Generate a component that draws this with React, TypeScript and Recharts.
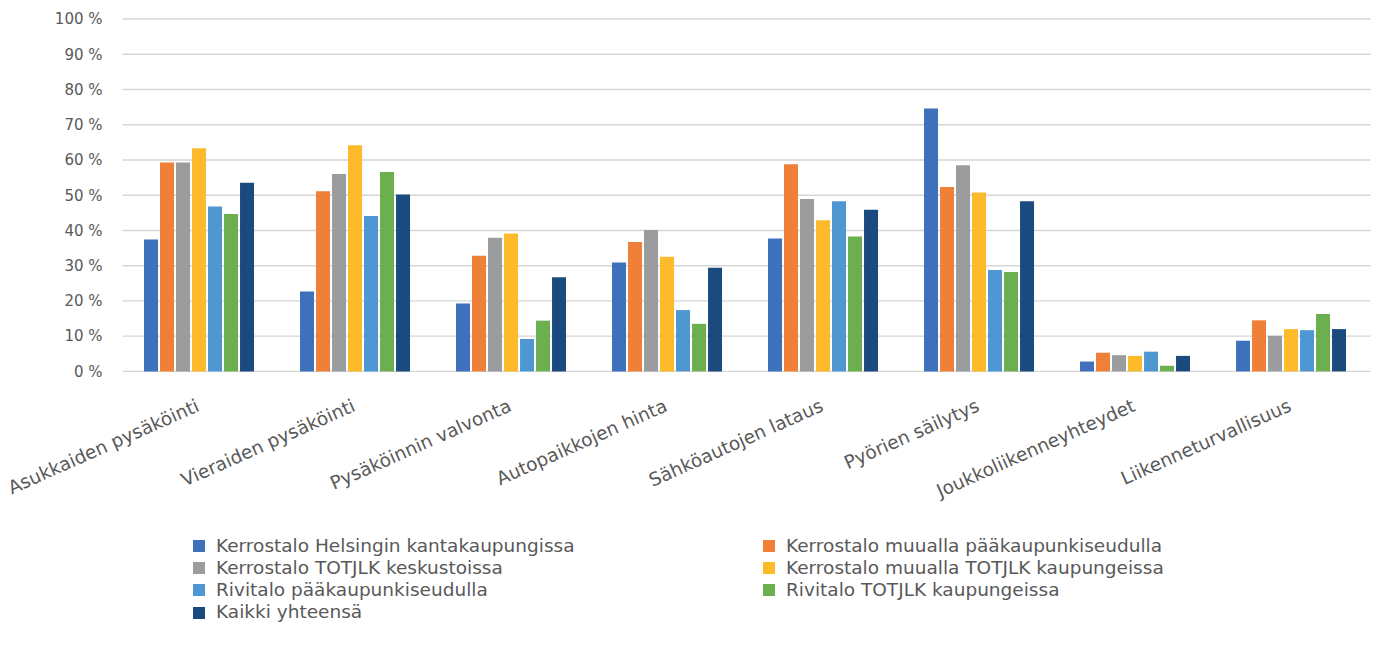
import React from 'react';
import { BarChart, Bar, XAxis, YAxis, CartesianGrid, Legend } from 'recharts';

const categories = [
  'Asukkaiden pysäköinti',
  'Vieraiden pysäköinti',
  'Pysäköinnin valvonta',
  'Autopaikkojen hinta',
  'Sähköautojen lataus',
  'Pyörien säilytys',
  'Joukkoliikenneyhteydet',
  'Liikenneturvallisuus',
];

const seriesNames = [
  'Kerrostalo Helsingin kantakaupungissa',
  'Kerrostalo muualla pääkaupunkiseudulla',
  'Kerrostalo TOTJLK keskustoissa',
  'Kerrostalo muualla TOTJLK kaupungeissa',
  'Rivitalo pääkaupunkiseudulla',
  'Rivitalo TOTJLK kaupungeissa',
  'Kaikki yhteensä',
];

const helsinkiKanta = [37.4, 22.7, 19.3, 30.9, 37.7, 74.6, 2.8, 8.7];
const muuallaPks = [59.3, 51.1, 32.8, 36.7, 58.8, 52.3, 5.3, 14.5];
const totjlkKeskusta = [59.3, 56.0, 37.9, 40.1, 48.9, 58.5, 4.6, 10.1];
const muuallaTotjlk = [63.3, 64.2, 39.1, 32.5, 42.9, 50.8, 4.4, 12.0];
const rivitaloPks = [46.8, 44.1, 9.2, 17.4, 48.3, 28.8, 5.6, 11.7];
const rivitaloTotjlk = [44.7, 56.6, 14.4, 13.5, 38.3, 28.2, 1.6, 16.3];
const kaikki = [53.5, 50.2, 26.7, 29.4, 45.9, 48.3, 4.4, 12.0];

const yTicks = [0, 10, 20, 30, 40, 50, 60, 70, 80, 90, 100];

const colors = ['#3F70BC', '#F07F38', '#9A9C9D', '#FDBA2B', '#4F97D3', '#6BAF4F', '#1B4A7E'];

const seriesValues = [helsinkiKanta, muuallaPks, totjlkKeskusta, muuallaTotjlk, rivitaloPks, rivitaloTotjlk, kaikki];

const data = categories.map((c, i) => {
  const row: Record<string, string | number> = { name: c };
  seriesNames.forEach((s, j) => {
    row[s] = seriesValues[j][i];
  });
  return row;
});

const FONT = '"DejaVu Sans", "Open Sans", sans-serif';
const TEXT = '#595959';

const XTick = (props: any) => {
  const { x, y, payload } = props;
  return (
    <g transform={`translate(${x},${y + 31})`}>
      <text
        textAnchor="end"
        transform="rotate(-24)"
        fontFamily={FONT}
        fontSize={18.5}
        fill={TEXT}
      >
        {payload.value}
      </text>
    </g>
  );
};

const LegendContent = (props: any) => {
  const payload = [...(props.payload || [])].sort(
    (a: any, b: any) => seriesNames.indexOf(a.value) - seriesNames.indexOf(b.value)
  );
  return (
    <div
      style={{
        display: 'grid',
        gridTemplateColumns: '570px 570px',
        rowGap: 0,
        fontFamily: FONT,
        fontSize: 18.5,
        lineHeight: '22.3px',
        color: TEXT,
      }}
    >
      {payload.map((p: any) => (
        <div key={p.value} style={{ display: 'flex', alignItems: 'center', height: 22.3 }}>
          <span
            style={{
              display: 'inline-block',
              width: 12,
              height: 12,
              background: p.color,
              marginRight: 11,
              flex: '0 0 auto',
            }}
          />
          <span style={{ whiteSpace: 'nowrap' }}>{p.value}</span>
        </div>
      ))}
    </div>
  );
};

export default function App() {
  return (
    <div style={{ position: 'absolute', left: 0, top: 0, width: 1376, height: 645, background: '#fff' }}>
      <BarChart
        width={1376}
        height={645}
        data={data}
        margin={{ top: 19, right: 5.5, bottom: 0, left: 0 }}
        barCategoryGap="13.8%"
        barGap={2}
      >
        <CartesianGrid horizontal vertical={false} stroke="#d6d6d6" strokeWidth={1.4} />
        <XAxis
          dataKey="name"
          height={273.6}
          axisLine={false}
          tickLine={false}
          interval={0}
          tick={<XTick />}
        />
        <YAxis
          width={122.5}
          domain={[0, 100]}
          ticks={yTicks}
          interval={0}
          axisLine={false}
          tickLine={false}
          tickMargin={14}
          tickFormatter={(v: number) => `${v} %`}
          tick={{ fontFamily: FONT, fontSize: 15, fill: TEXT }}
        />
        <Legend
          layout="horizontal"
          verticalAlign="middle"
          align="center"
          content={<LegendContent />}
          wrapperStyle={{ top: 534.5, left: 193, width: 1140, height: 95 }}
        />
        {seriesNames.map((s, j) => (
          <Bar key={s} dataKey={s} fill={colors[j]} isAnimationActive={false} />
        ))}
      </BarChart>
    </div>
  );
}
